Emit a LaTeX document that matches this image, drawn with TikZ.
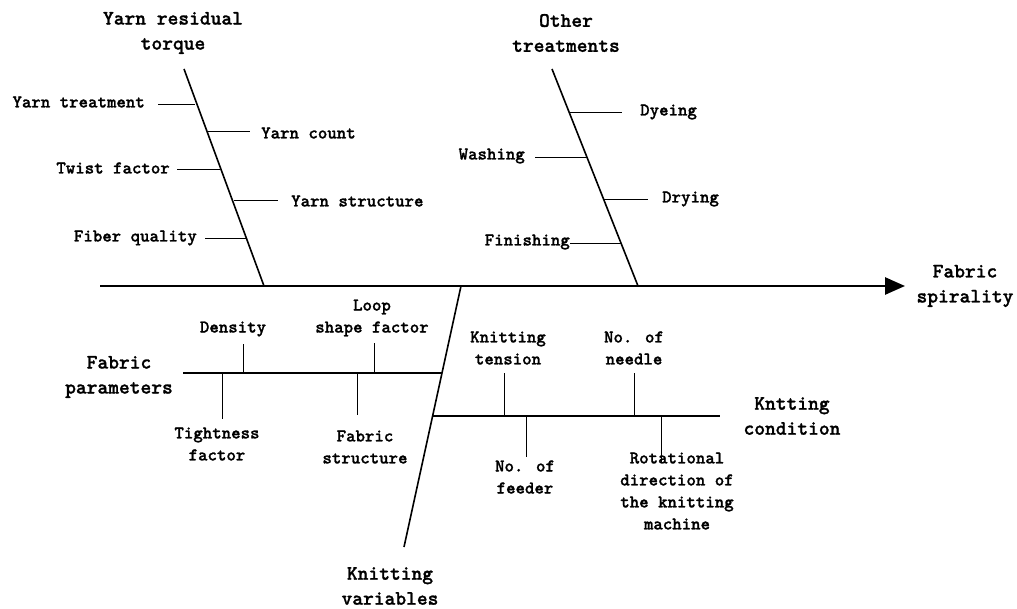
\documentclass[tikz,border=0pt]{standalone}
\usepackage{fontspec}
\newfontfamily\fishfont{lmmonolt10-bold.otf}[FakeBold=1.2]
\usetikzlibrary{arrows.meta}
\begin{document}
\begin{tikzpicture}[x=1pt,y=-1pt,
  cause/.style={font=\fishfont\fontsize{18}{22}\selectfont, inner sep=0pt, align=center},
  head/.style={font=\fishfont\fontsize{20.5}{25}\selectfont, inner sep=0pt, align=center},
  bone/.style={line width=1.6pt},
  rib/.style={line width=1.6pt},
  tick/.style={line width=0.8pt}]
\useasboundingbox (0,0) rectangle (1017,609);

% spine and effect
\coordinate (tail) at (100,286);
\coordinate (tip) at (905,286);
\node[head] (effect) at (965,286) {Fabric\\spirality};
\draw[line width=2.6pt, -{Triangle[length=20pt,width=17pt]}] (tail) -- (tip);

% upper bone: yarn residual torque
\node[head] (yarn) at (173,33) {Yarn residual\\torque};
\coordinate (y0) at (184,69);
\coordinate (y1) at (264,286);
\draw[bone] (y0) -- (y1);
\node[cause, anchor=east] (ytreat) at (145,102) {Yarn treatment};
\node[cause, anchor=west] (ycount) at (261,133) {Yarn count};
\node[cause, anchor=east] (twist) at (170,168) {Twist factor};
\node[cause, anchor=west] (ystruct) at (291,201) {Yarn structure};
\node[cause, anchor=east] (fiber) at (197,238) {Fiber quality};
\coordinate (t1a) at (158,104); \coordinate (t1b) at (195,104);
\coordinate (t2a) at (207,131); \coordinate (t2b) at (250,131);
\coordinate (t3a) at (177,169); \coordinate (t3b) at (220,169);
\coordinate (t4a) at (234,200); \coordinate (t4b) at (278,200);
\coordinate (t5a) at (205,238); \coordinate (t5b) at (246,238);
\foreach \k in {1,...,5} \draw[tick] (t\k a) -- (t\k b);

% upper bone: other treatments
\node[head] (other) at (566,33) {Other\\treatments};
\coordinate (o0) at (552,69);
\coordinate (o1) at (638,286);
\draw[bone] (o0) -- (o1);
\node[cause, anchor=west] (dye) at (640,112) {Dyeing};
\node[cause, anchor=east] (wash) at (525,156) {Washing};
\node[cause, anchor=west] (dry) at (662,199) {Drying};
\node[cause, anchor=east] (finish) at (570,242) {Finishing};
\coordinate (u1a) at (570,112); \coordinate (u1b) at (622,112);
\coordinate (u2a) at (535,157); \coordinate (u2b) at (587,157);
\coordinate (u3a) at (604,199); \coordinate (u3b) at (648,199);
\coordinate (u4a) at (570,243); \coordinate (u4b) at (621,243);
\foreach \k in {1,...,4} \draw[tick] (u\k a) -- (u\k b);

% lower bone: knitting variables
\node[head] (knit) at (390,586) {Knitting\\variables};
\coordinate (k0) at (461,286);
\coordinate (k1) at (404,547);
\draw[bone] (k0) -- (k1);

% fabric parameters rib
\node[head] (fabric) at (119,377) {Fabric\\parameters};
\coordinate (f0) at (183,373);
\coordinate (f1) at (442,373);
\draw[rib] (f0) -- (f1);
\node[cause] (density) at (233,329) {Density};
\node[cause] (loop) at (372,318) {Loop\\shape factor};
\node[cause] (tight) at (217,444) {Tightness\\factor};
\node[cause] (fstruct) at (365,447) {Fabric\\structure};
\draw[tick] (243,373) -- (243,344);
\draw[tick] (374,373) -- (374,343);
\draw[tick] (222,373) -- (222,419);
\draw[tick] (357,373) -- (357,415);

% knitting condition rib
\node[head] (cond) at (792,416) {Kntting\\condition};
\coordinate (c0) at (433,416);
\coordinate (c1) at (720,416);
\draw[rib] (c0) -- (c1);
\node[cause] (tension) at (508,348) {Knitting\\tension};
\node[cause] (needle) at (634,348) {No. of\\needle};
\node[cause] (feeder) at (525,477) {No. of\\feeder};
\node[cause] (rot) at (677,491) {Rotational\\direction of\\the knitting\\machine};
\draw[tick] (504,416) -- (504,373);
\draw[tick] (634,416) -- (634,373);
\draw[tick] (526,416) -- (526,457);
\draw[tick] (661,416) -- (661,462);
\end{tikzpicture}
\end{document}
